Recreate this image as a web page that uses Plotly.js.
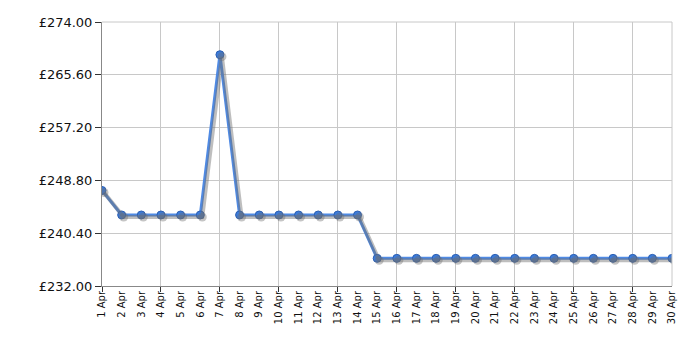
<!DOCTYPE html>
<html><head><meta charset="utf-8">
<script src="https://cdn.plot.ly/plotly-3.0.1.min.js"></script>
<style>html,body{margin:0;padding:0;background:#fff}#c{width:700px;height:350px}</style>
</head><body><div id="c"></div>
<script>
const days = [1,2,3,4,5,6,7,8,9,10,11,12,13,14,15,16,17,18,19,20,21,22,23,24,25,26,27,28,29,30];
const dayLabels = days.map(d => d + ' Apr');
const prices = [247.2,243.3,243.3,243.3,243.3,243.3,268.8,243.3,243.3,243.3,243.3,243.3,243.3,243.3,
  236.4,236.4,236.4,236.4,236.4,236.4,236.4,236.4,236.4,236.4,236.4,236.4,236.4,236.4,236.4,236.4];
const yTicks = [232,240.4,248.8,257.2,265.6,274];
const yTickText = yTicks.map(v => '£' + v.toFixed(2));

const font = {family:'DejaVu Sans, Verdana, sans-serif', size:13, color:'#111'};
const shadow = {
  x: days, y: prices, xaxis:'x2', yaxis:'y2', mode:'lines',
  line:{color:'rgba(110,110,110,0.45)', width:4}, hoverinfo:'skip'
};
const shadowM = {
  x: days, y: prices, xaxis:'x2', yaxis:'y2', mode:'markers',
  marker:{color:'rgba(110,110,110,0.4)', size:9, line:{width:0}}, hoverinfo:'skip'
};
const main = {
  x: days, y: prices, mode:'lines+markers',
  line:{color:'#4f8ae4', width:3},
  marker:{color:'#3b7bdb', size:8, line:{color:'#2c5fb2', width:1}}
};
const xr = [1,30], yr = [232,274];
const pxX = 570/29, pxY = 264/42;
Plotly.newPlot('c', [shadow, shadowM, main], {
  width:700, height:350,
  margin:{l:102, r:28, t:22, b:64},
  paper_bgcolor:'#fff', plot_bgcolor:'#fff',
  showlegend:false, font:font,
  xaxis:{range:xr, tickmode:'array', tickvals:days, ticktext:dayLabels, tickangle:-90,
    tickfont:{family:'DejaVu Sans, Verdana, sans-serif', size:10, color:'#111'},
    showgrid:false, ticks:'', zeroline:false, showline:true, linecolor:'#888', linewidth:1,
    mirror:false,
    minor:{tickmode:'linear', tick0:1, dtick:3, showgrid:true, gridcolor:'#c8c8c8', gridwidth:1,
      ticks:'outside', ticklen:5, tickcolor:'#333'}},
  yaxis:{range:yr, tickmode:'array', tickvals:yTicks, ticktext:yTickText,
    showgrid:true, gridcolor:'#c8c8c8', gridwidth:1, ticks:'outside', ticklen:6, tickcolor:'#333',
    zeroline:false, showline:true, linecolor:'#888', linewidth:1, tickfont:font},
  xaxis2:{range:[xr[0]-2/pxX, xr[1]-2/pxX], overlaying:'x', visible:false},
  yaxis2:{range:[yr[0]+2/pxY, yr[1]+2/pxY], overlaying:'y', visible:false},
  shapes:[{type:'line', xref:'paper', yref:'paper', x0:1, x1:1, y0:0, y1:1, line:{color:'#c8c8c8', width:1}},
          {type:'line', xref:'paper', yref:'paper', x0:0, x1:1, y0:1, y1:1, line:{color:'#c8c8c8', width:1}}]
}, {displayModeBar:false, staticPlot:true});
</script></body></html>
